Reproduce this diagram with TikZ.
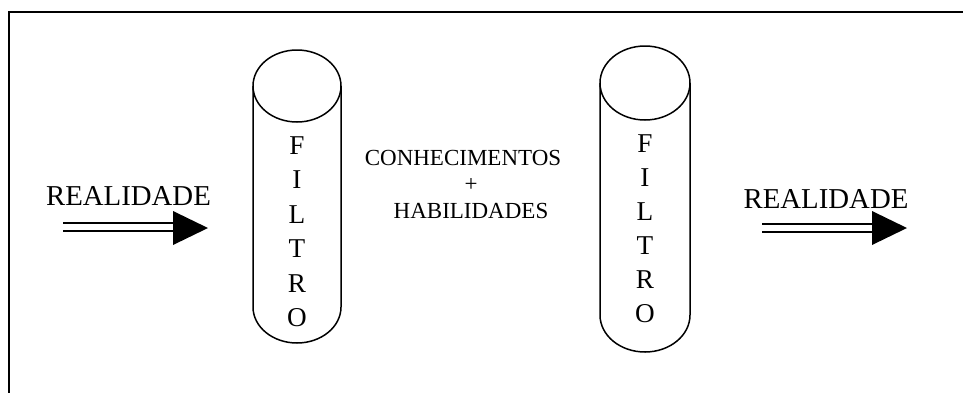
\documentclass[tikz,border=0pt]{standalone}
\usepackage{fontspec}
\setmainfont{Liberation Serif}
\begin{document}
\begin{tikzpicture}[x=0.5pt,y=-0.5pt,
  frame/.style={line width=1pt,line cap=rect},
  cyl/.style={line width=0.75pt},
  shaft/.style={double,double distance=2.85pt,line width=1pt},
  head/.style={fill=black},
  bigtxt/.style={font=\fontsize{14.4}{16}\selectfont,anchor=base,inner sep=0pt},
  lettertxt/.style={font=\fontsize{13.6}{15}\selectfont,anchor=base,inner sep=0pt},
  midtxt/.style={font=\fontsize{11.5}{13}\selectfont,anchor=base,inner sep=0pt}]
\useasboundingbox (0,0) rectangle (963,392);
% frame (only top and left edges visible)
\draw[frame] (9,395) -- (9,12) -- (965,12);
% left cylinder
\draw[cyl] (297,86) ellipse[x radius=44,y radius=36];
\draw[cyl] (253,86) -- (253,307) arc[start angle=180,end angle=0,x radius=44,y radius=36] -- (341,86);
% right cylinder
\draw[cyl] (645,83) ellipse[x radius=45,y radius=37];
\draw[cyl] (600,83) -- (600,315) arc[start angle=180,end angle=0,x radius=45,y radius=37] -- (690,83);
% letters
\foreach \l [count=\i] in {F,I,L,T,R,O}{
  \node[lettertxt] (lf\i) at (297,{154+34.5*(\i-1)}) {\l};
  \node[lettertxt] (rf\i) at (645,{152+34*(\i-1)}) {\l};
}
% middle text
\node[midtxt] (conh) at (463,165) {CONHECIMENTOS};
\node[midtxt] (plus) at (471,191) {+};
\node[midtxt] (hab) at (471,218) {HABILIDADES};
% left REALIDADE and arrow
\node[bigtxt] (real1) at (128.5,205) {REALIDADE};
\coordinate (la0) at (63,227.2);
\coordinate (la1) at (174,227.2);
\coordinate (latip) at (208,228);
\draw[shaft] (la0) -- (la1);
\fill[head] (173,211) -- (latip) -- (173,245) -- cycle;
% right REALIDADE and arrow
\node[bigtxt] (real2) at (826,208) {REALIDADE};
\coordinate (ra0) at (762,227.8);
\coordinate (ra1) at (873,227.8);
\coordinate (ratip) at (907,228);
\draw[shaft] (ra0) -- (ra1);
\fill[head] (872,211) -- (ratip) -- (872,245) -- cycle;
\end{tikzpicture}
\end{document}
